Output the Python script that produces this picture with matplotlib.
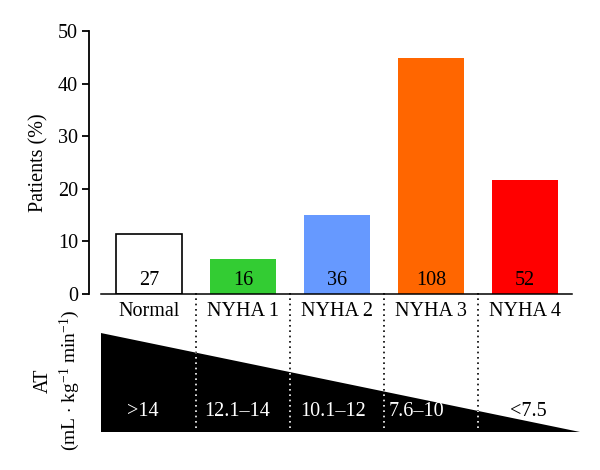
import matplotlib
matplotlib.use("Agg")
import matplotlib.pyplot as plt
from matplotlib.patches import Polygon

categories = ["Normal", "NYHA 1", "NYHA 2", "NYHA 3", "NYHA 4"]
percent = [11.4, 6.6, 15.0, 44.9, 21.7]
counts = ["27", "16", "36", "108", "52"]
at_ranges = [">14", "12.1\u201314", "10.1\u201312", "7.6\u201310", "<7.5"]
colors = ["#ffffff", "#33cc33", "#6699ff", "#ff6600", "#ff0000"]

plt.rcParams['font.family'] = ['Liberation Serif', 'DejaVu Serif']
plt.rcParams['mathtext.fontset'] = 'custom'
plt.rcParams['mathtext.rm'] = 'Liberation Serif'
plt.rcParams['mathtext.it'] = 'Liberation Serif:italic'
FS = 14.5

W, H = 600, 470
fig = plt.figure(figsize=(W / 100, H / 100), dpi=100)

def px(l, r, t, b):
    return [l / W, 1 - b / H, (r - l) / W, (b - t) / H]

ax = fig.add_axes(px(101, 572, 31, 294))
x = list(range(len(categories)))
unit = 94.0
xmin = -48 / unit
ax.set_xlim(xmin, xmin + (572 - 101) / unit)
ax.set_ylim(0, 50)
for i in x:
    ax.bar(i, percent[i], width=0.70, color=colors[i],
           edgecolor="black" if i == 0 else "none", linewidth=1.2 if i == 0 else 0, zorder=2)
    ax.text(i, 2.5, counts[i], ha="center", va="center", fontsize=FS, color="black", zorder=3)

for s in ["top", "right"]:
    ax.spines[s].set_visible(False)
ax.spines["left"].set_position(("outward", 8.6))
ax.spines["left"].set_bounds(0, 50)
ax.spines["left"].set_linewidth(1.3)
ax.spines["bottom"].set_linewidth(1.1)
ax.set_yticks([0, 10, 20, 30, 40, 50])
ax.tick_params(axis="y", length=5, width=1.3, labelsize=FS, pad=3)
ax.set_xticks(x)
ax.set_xticklabels(categories, fontsize=FS)
ax.tick_params(axis="x", length=0, pad=5.5)
ax.set_ylabel("Patients (%)", fontsize=FS, labelpad=7)

# lower panel: AT triangle
ax2 = fig.add_axes(px(101, 580, 293, 432))
ax2.set_xlim(xmin, xmin + (580 - 101) / unit)
ax2.set_ylim(0, 1)
ax2.axis("off")
x0, x1 = ax2.get_xlim()
tri = Polygon([[x0, 0], [x0, 0.712], [x1, 0]], closed=True, facecolor="black",
              edgecolor="none", zorder=1)
ax2.add_patch(tri)
for i in range(len(categories) - 1):
    xs = i + 0.5
    ax2.plot([xs, xs], [0.03, 1], color="black", linestyle=(0, (1, 2.2)), linewidth=1.2, zorder=0)
    ln, = ax2.plot([xs, xs], [0.03, 1], color="white", linestyle=(0, (1, 2.2)), linewidth=1.2, zorder=2)
    ln.set_clip_path(tri)
at_x = [-0.07, -0.06, -0.04, -0.15, 0.03]
for i in x:
    ax2.text(i + at_x[i], 0.145, at_ranges[i], ha="center", va="center", fontsize=FS,
             color="white" if i < 4 else "black", zorder=3)

fig.text(43 / W, 1 - 381 / H, "AT", rotation=90, ha="center", va="center", fontsize=FS)
fig.text(70 / W, 1 - 380 / H, r"(mL $\cdot$ kg$^{-1}$ min$^{-1}$)", rotation=90,
         ha="center", va="center", fontsize=14)

fig.savefig("out.png", dpi=100)
